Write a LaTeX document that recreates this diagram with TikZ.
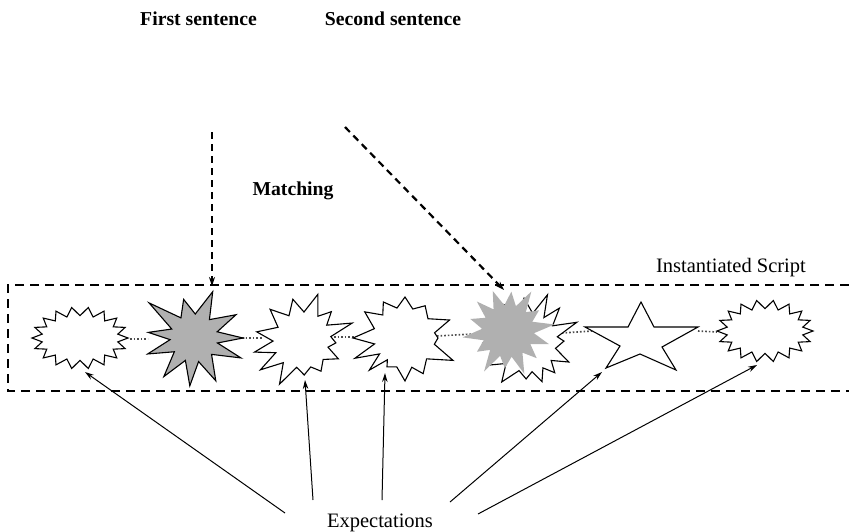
\documentclass[tikz,border=0pt]{standalone}
\usepackage{fontspec}
\setmainfont{Liberation Serif}
\usetikzlibrary{arrows.meta,calc}
\begin{document}
\begin{tikzpicture}[x=1pt,y=-1pt,
  lab/.style={font=\fontsize{20.5}{22}\selectfont, anchor=base, inner sep=0pt},
  blab/.style={font=\fontsize{19.7}{22}\selectfont\bfseries, anchor=base, inner sep=0pt},
  burstline/.style={draw=black, line width=1.1pt, line join=miter, miter limit=20, fill=white},
  grayburst/.style={draw=black, line width=1.1pt, line join=miter, miter limit=20, fill=gray!62},
  ghost/.style={fill=gray!62, draw=none},
  link/.style={dotted, line width=1.6pt, black!70},
  matcharrow/.style={line width=2.2pt, dash pattern=on 7pt off 5pt, -{Stealth[length=9pt,width=6pt]}},
  expect/.style={line width=1pt, -{Stealth[length=9pt,width=5.5pt]}},
  frame/.style={line width=1.5pt, dash pattern=on 9pt off 6pt}]
\useasboundingbox (0,0) rectangle (849,531);

% named positions
\coordinate (c1) at (80,338);
\coordinate (c2) at (194,338);
\coordinate (c3) at (303,340);
\coordinate (c4) at (405,338);
\coordinate (c5w) at (528,343);
\coordinate (c5g) at (508,331);
\coordinate (c6) at (641,338);
\coordinate (c7) at (765,331);

% dashed frame (open on the right)
\coordinate (fr1) at (849,285);
\coordinate (fr2) at (8,285);
\coordinate (fr3) at (8,391);
\coordinate (fr4) at (849,391);
\draw[frame] (fr1) -- (fr2) -- (fr3) -- (fr4);

% dotted links between the script states
\coordinate (l12a) at (130,339); \coordinate (l12b) at (148,339);
\coordinate (l23a) at (242,338); \coordinate (l23b) at (262,338);
\coordinate (l34a) at (334,337); \coordinate (l34b) at (357,337);
\coordinate (l45a) at (437,336); \coordinate (l45b) at (490,333);
\coordinate (l56a) at (562,333); \coordinate (l56b) at (592,331);
\coordinate (l67a) at (698,331); \coordinate (l67b) at (717,332);
\draw[link] (l12a) -- (l12b);
\draw[link] (l23a) -- (l23b);
\draw[link] (l34a) -- (l34b);
\draw[link] (l45a) -- (l45b);
\draw[link] (l56a) -- (l56b);
\draw[link] (l67a) -- (l67b);

% shape 1: elliptic burst
\begin{scope}[shift={(c1)}, yscale=-1]
\draw[burstline] plot[samples at={0,...,35}] ({\x*10}:{48*(0.9+0.1*cos(180*\x))} and {31*(0.86+0.14*cos(180*\x))}) -- cycle;
\end{scope}

% shape 2: gray star
\begin{scope}[shift={(c2)}, yscale=-1]
\draw[grayburst] (68:50) -- (50:24) -- (29:48) -- (15:24) -- (0:49) -- (-12:24) -- (-23:51) -- (-43:24) -- (-63:48) -- (-79:24) -- (-95:48) -- (-111:24) -- (-128:49) -- (-145:24) -- (-161:49) -- (-176:24) -- (173:46) -- (158:24) -- (142:57) -- (123:24) -- (105:40) -- (87:24) -- cycle;
\end{scope}

% shape 3: irregular white burst
\begin{scope}[shift={(c3)}, yscale=-1]
\draw[burstline] (170:47) -- (153:28) -- (137:45) -- (120:28) -- (104:42) -- (88:28) -- (72:48) -- (58:28) -- (45:40) -- (32:28) -- (19:52) -- (7:28) -- (-5:33) -- (-16:26) -- (-28:40) -- (-44:28) -- (-60:36) -- (-74:28) -- (-88:35) -- (-103:28) -- (-118:50) -- (-131:30) -- (-145:52) -- (-155:30) -- (-166:50) -- (-178:30) -- cycle;
\end{scope}

% shape 4: irregular white burst
\begin{scope}[shift={(c4)}, yscale=-1]
\draw[burstline] (180:52) -- (163:32) -- (147:48) -- (134:32) -- (121:42) -- (105:31) -- (90:41) -- (75:30) -- (58:38) -- (40:30) -- (22:48) -- (10:30) -- (0:33) -- (-12:30) -- (-25:53) -- (-44:30) -- (-63:40) -- (-77:30) -- (-90:43) -- (-106:30) -- (-122:34) -- (-129:28) -- (-138:48) -- (-148:30) -- (-158:54) -- (-169:31) -- cycle;
\end{scope}

% shape 5: white burst partly covered by a gray burst
\begin{scope}[shift={(c5w)}, yscale=-1]
\draw[burstline] (95:45) -- (81:30) -- (68:52) -- (58:30) -- (48:47) -- (35:30) -- (23:53) -- (12:30) -- (3:36) -- (-11:28) -- (-25:45) -- (-37:29) -- (-48:40) -- (-59:29) -- (-70:41) -- (-82:29) -- (-93:36) -- (-108:29) -- (-124:47) -- (-137:30) -- (-150:44) -- (-165:30) -- (180:45) -- (165:30) -- (150:45) -- (136:30) -- (122:45) -- (108:30) -- cycle;
\end{scope}
\begin{scope}[shift={(c5g)}, yscale=-1]
\fill[ghost] plot[samples at={0,...,27}] ({\x*360/28+8}:{26+(0.5+0.5*cos(180*\x))*(16+5*cos(\x*100))}) -- cycle;
\end{scope}

% shape 6: five-pointed star
\begin{scope}[shift={(c6)}]
\draw[burstline] (0,-36) -- (13,-11) -- (57,-11) -- (21,9) -- (35,32) -- (-1,16) -- (-35,30) -- (-21,8) -- (-56,-11) -- (-13,-11) -- cycle;
\end{scope}

% shape 7: elliptic burst
\begin{scope}[shift={(c7)}, yscale=-1]
\draw[burstline] plot[samples at={0,...,35}] ({\x*10}:{48*(0.9+0.1*cos(180*\x))} and {31*(0.86+0.14*cos(180*\x))}) -- cycle;
\end{scope}

% labels
\node[blab] (first) at (198.5,25) {First sentence};
\node[blab] (second) at (393,25) {Second sentence};
\node[blab] (matching) at (293,195) {Matching};
\node[lab] (script) at (731,272) {Instantiated Script};
\node[lab] (expect) at (380,527) {Expectations};

% matching arrows
\coordinate (m1s) at (212,132); \coordinate (m1e) at (212,286);
\coordinate (m2s) at (345,127); \coordinate (m2e) at (504,290);
\draw[matcharrow] (m1s) -- (m1e);
\draw[matcharrow] (m2s) -- (m2e);

% expectation arrows
\coordinate (e1) at (285,513); \coordinate (t1) at (85,372);
\coordinate (e2) at (313,500); \coordinate (t2) at (305,380);
\coordinate (e3) at (382,500); \coordinate (t3) at (385,373);
\coordinate (e4) at (450,502); \coordinate (t4) at (602,372);
\coordinate (e5) at (478,514); \coordinate (t5) at (757,365);
\draw[expect] (e1) -- (t1);
\draw[expect] (e2) -- (t2);
\draw[expect] (e3) -- (t3);
\draw[expect] (e4) -- (t4);
\draw[expect] (e5) -- (t5);
\end{tikzpicture}
\end{document}
